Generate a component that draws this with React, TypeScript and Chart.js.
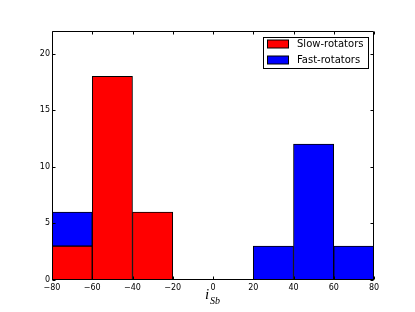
import React, { useEffect, useRef } from 'react';
import { Chart, registerables } from 'chart.js';

Chart.register(...registerables);

// Histogram bins (centers of 20-degree bins) and counts
const binCenters = [-70, -50, -30, -10, 10, 30, 50, 70];
const slowCounts = [3, 18, 6, 0, 0, 0, 0, 0];
const fastCounts = [3, 0, 0, 0, 0, 3, 12, 3];
const seriesLabels = ['Slow-rotators', 'Fast-rotators'];
const seriesColors = ['#ff0000', '#0000ff'];
const xTicks = [-80, -60, -40, -20, 0, 20, 40, 60, 80];
const yTicks = [0, 5, 10, 15, 20];

const fmt = (v: number) => (v < 0 ? '\u2212' + Math.abs(v) : String(v));

const framePlugin = {
  id: 'frameTicks',
  afterDatasetsDraw(chart: any) {
    const { ctx, chartArea: a, scales } = chart;
    ctx.save();
    ctx.strokeStyle = '#000';
    ctx.lineWidth = 1;
    const L = Math.round(a.left) + 0.5;
    const R = Math.round(a.right) - 0.5;
    const T = Math.round(a.top) + 0.5;
    const B = Math.round(a.bottom) - 0.5;
    ctx.beginPath();
    ctx.rect(L, T, R - L, B - T);
    ctx.stroke();
    const len = 3;
    ctx.beginPath();
    for (const v of xTicks) {
      const px = Math.round(scales.x.getPixelForValue(v)) + 0.5;
      ctx.moveTo(px, B);
      ctx.lineTo(px, B - len);
      ctx.moveTo(px, T);
      ctx.lineTo(px, T + len);
    }
    for (const v of yTicks) {
      const py = Math.round(scales.y.getPixelForValue(v)) + 0.5;
      ctx.moveTo(L, py);
      ctx.lineTo(L + len, py);
      ctx.moveTo(R, py);
      ctx.lineTo(R - len, py);
    }
    ctx.stroke();
    ctx.restore();
  },
  afterDraw(chart: any) {
    const { ctx } = chart;
    ctx.save();
    // Legend
    const bx = 263.5, by = 37.5, bw = 105, bh = 31;
    ctx.fillStyle = '#fff';
    ctx.fillRect(bx, by, bw, bh);
    ctx.strokeStyle = '#000';
    ctx.lineWidth = 1;
    ctx.strokeRect(bx, by, bw, bh);
    ctx.font = '10px "DejaVu Sans"';
    ctx.textBaseline = 'middle';
    ctx.textAlign = 'left';
    seriesLabels.forEach((lab, i) => {
      const cy = 44 + i * 16;
      ctx.fillStyle = seriesColors[i];
      ctx.fillRect(267.5, cy - 4, 21, 8);
      ctx.strokeStyle = '#000';
      ctx.strokeRect(267.5, cy - 4, 21, 8);
      ctx.fillStyle = '#000';
      ctx.fillText(lab, 297, cy);
    });
    // X axis label: i_{Sb}
    ctx.textBaseline = 'alphabetic';
    ctx.font = 'italic 15px "Liberation Serif"';
    ctx.fillText('i', 205, 299);
    ctx.font = 'italic 10px "Liberation Serif"';
    ctx.fillText('Sb', 210, 304);
    ctx.restore();
  },
};

export default function App() {
  const ref = useRef<HTMLCanvasElement>(null);
  useEffect(() => {
    if (!ref.current) return;
    Chart.defaults.color = '#000';
    const toData = (arr: number[]) =>
      binCenters.map((x, i) => ({ x, y: arr[i] === 0 ? null : arr[i] }));
    const chart = new Chart(ref.current, {
      type: 'bar',
      data: {
        datasets: [
          {
            label: seriesLabels[0],
            data: toData(slowCounts) as any,
            backgroundColor: seriesColors[0],
            borderColor: '#000',
            borderWidth: 1,
            borderSkipped: false,
            barPercentage: 1,
            categoryPercentage: 1,
          },
          {
            label: seriesLabels[1],
            data: toData(fastCounts) as any,
            backgroundColor: seriesColors[1],
            borderColor: '#000',
            borderWidth: 1,
            borderSkipped: false,
            barPercentage: 1,
            categoryPercentage: 1,
          },
        ],
      },
      options: {
        responsive: false,
        animation: false,
        devicePixelRatio: 1,
        layout: { padding: { top: 31, right: 41, left: 0, bottom: 0 } },
        plugins: { legend: { display: false }, tooltip: { enabled: false } },
        scales: {
          x: {
            type: 'linear',
            stacked: true,
            offset: false,
            min: -80,
            max: 80,
            grid: { display: false, drawTicks: false, offset: false },
            border: { display: false },
            ticks: {
              padding: 3,
              color: '#000',
              font: { family: '"DejaVu Sans"', size: 8 },
              maxRotation: 0,
              autoSkip: false,
              callback: (v: any) => fmt(Number(v)),
            },
            afterBuildTicks: (s: any) => {
              s.ticks = xTicks.map((value) => ({ value }));
            },
            afterFit: (s: any) => {
              s.height = 32;
              s.paddingLeft = 0;
              s.paddingRight = 0;
            },
          } as any,
          y: {
            stacked: true,
            min: 0,
            max: 22,
            grid: { display: false, drawTicks: false },
            border: { display: false },
            ticks: {
              padding: 2,
              color: '#000',
              font: { family: '"DejaVu Sans"', size: 8 },
              callback: (v: any) => fmt(Number(v)),
            },
            afterBuildTicks: (s: any) => {
              s.ticks = yTicks.map((value) => ({ value }));
            },
            afterFit: (s: any) => {
              s.width = 52;
              s.paddingTop = 0;
              s.paddingBottom = 0;
            },
          } as any,
        },
      },
      plugins: [framePlugin],
    });
    return () => chart.destroy();
  }, []);
  return (
    <div style={{ position: 'absolute', left: 0, top: 0, width: 415, height: 312, background: '#fff' }}>
      <canvas ref={ref} width={415} height={312} style={{ display: 'block' }} />
    </div>
  );
}
